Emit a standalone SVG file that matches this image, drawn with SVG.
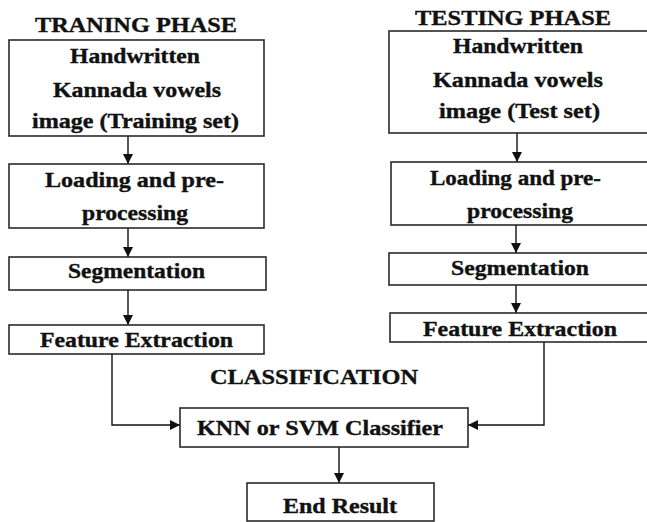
<svg xmlns="http://www.w3.org/2000/svg" width="647" height="522" viewBox="0 0 647 522">
<style>
.box{fill:#fff;stroke:#2a2a2a;stroke-width:1.6}
.t{font-family:"Liberation Serif","Times New Roman",serif;font-weight:bold;font-size:20px;fill:#111;stroke:#111;stroke-width:0.35;text-anchor:middle}
.h{font-size:21px}
.c{fill:none;stroke:#111;stroke-width:1.4}
</style>
<defs>
<marker id="ah" markerWidth="10" markerHeight="10" refX="10" refY="5" orient="auto" markerUnits="userSpaceOnUse">
<path d="M0,0 L10,5 L0,10 Z" fill="#111"/>
</marker>
</defs>
<rect width="647" height="522" fill="#fff"/>
<text class="t h" x="136" y="32" textLength="202" lengthAdjust="spacingAndGlyphs">TRANING PHASE</text>
<text class="t h" x="513" y="25" textLength="196" lengthAdjust="spacingAndGlyphs">TESTING PHASE</text>
<text class="t h" x="314" y="384" textLength="208" lengthAdjust="spacingAndGlyphs">CLASSIFICATION</text>

<g id="connectors">
<line class="c" x1="128" y1="136" x2="128" y2="164" marker-end="url(#ah)"/>
<line class="c" x1="128" y1="228" x2="128" y2="257" marker-end="url(#ah)"/>
<line class="c" x1="128" y1="290" x2="128" y2="325" marker-end="url(#ah)"/>
<line class="c" x1="517" y1="133" x2="517" y2="162" marker-end="url(#ah)"/>
<line class="c" x1="516" y1="225" x2="516" y2="253" marker-end="url(#ah)"/>
<line class="c" x1="516" y1="285" x2="516" y2="313" marker-end="url(#ah)"/>
<polyline class="c" points="112,354 112,425 180,425" marker-end="url(#ah)"/>
<polyline class="c" points="544,342 544,425 468,425" marker-end="url(#ah)"/>
<line class="c" x1="339" y1="447" x2="339" y2="483" marker-end="url(#ah)"/>
</g>

<g id="train-input">
<rect class="box" x="9" y="40" width="255" height="96"/>
<text class="t" x="135" y="63" textLength="130" lengthAdjust="spacingAndGlyphs">Handwritten</text>
<text class="t" x="137" y="97" textLength="168" lengthAdjust="spacingAndGlyphs">Kannada vowels</text>
<text class="t" x="135.5" y="128" textLength="207" lengthAdjust="spacingAndGlyphs">image (Training set)</text>
</g>
<g id="train-loading">
<rect class="box" x="9" y="164" width="255" height="64"/>
<text class="t" x="134.5" y="187" textLength="179" lengthAdjust="spacingAndGlyphs">Loading and pre-</text>
<text class="t" x="135" y="220" textLength="106" lengthAdjust="spacingAndGlyphs">processing</text>
</g>
<g id="train-seg">
<rect class="box" x="9" y="257" width="257" height="33"/>
<text class="t" x="136.5" y="278" textLength="137" lengthAdjust="spacingAndGlyphs">Segmentation</text>
</g>
<g id="train-feat">
<rect class="box" x="9" y="325" width="255" height="29"/>
<text class="t" x="136.5" y="347" textLength="193" lengthAdjust="spacingAndGlyphs">Feature Extraction</text>
</g>

<g id="test-input">
<rect class="box" x="389" y="31" width="262" height="102"/>
<text class="t" x="518" y="53" textLength="130" lengthAdjust="spacingAndGlyphs">Handwritten</text>
<text class="t" x="518" y="87" textLength="170" lengthAdjust="spacingAndGlyphs">Kannada vowels</text>
<text class="t" x="519.5" y="118" textLength="161" lengthAdjust="spacingAndGlyphs">image (Test set)</text>
</g>
<g id="test-loading">
<rect class="box" x="391" y="162" width="260" height="63"/>
<text class="t" x="515.5" y="185" textLength="171" lengthAdjust="spacingAndGlyphs">Loading and pre-</text>
<text class="t" x="520" y="218" textLength="106" lengthAdjust="spacingAndGlyphs">processing</text>
</g>
<g id="test-seg">
<rect class="box" x="389" y="253" width="262" height="32"/>
<text class="t" x="520" y="275" textLength="138" lengthAdjust="spacingAndGlyphs">Segmentation</text>
</g>
<g id="test-feat">
<rect class="box" x="390" y="313" width="261" height="29"/>
<text class="t" x="520" y="336" textLength="194" lengthAdjust="spacingAndGlyphs">Feature Extraction</text>
</g>

<g id="classifier">
<rect class="box" x="180" y="408" width="288" height="39"/>
<text class="t" x="320" y="435" textLength="246" lengthAdjust="spacingAndGlyphs">KNN or SVM Classifier</text>
</g>
<g id="end-result">
<rect class="box" x="247" y="483" width="187" height="38"/>
<text class="t" x="340" y="513" textLength="114" lengthAdjust="spacingAndGlyphs">End Result</text>
</g>
</svg>
